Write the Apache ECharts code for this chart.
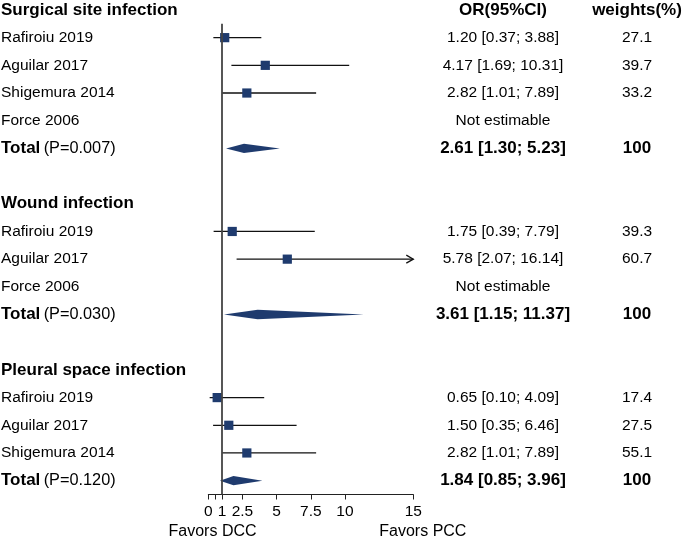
<!DOCTYPE html>
<html>
<head>
<meta charset="utf-8">
<script src="https://cdn.jsdelivr.net/npm/echarts@6/dist/echarts.min.js"></script>
<style>html,body{margin:0;padding:0;background:#fff}#chart{width:685px;height:539px}</style>
</head>
<body>
<div id="chart"></div>
<script>
// ---- Data ----
const groupNames = ['Surgical site infection', 'Wound infection', 'Pleural space infection'];

const ssiStudies = ['Rafiroiu 2019', 'Aguilar 2017', 'Shigemura 2014', 'Force 2006'];
const ssiOR = [1.20, 4.17, 2.82, null];
const ssiLow = [0.37, 1.69, 1.01, null];
const ssiHigh = [3.88, 10.31, 7.89, null];
const ssiWeight = [27.1, 39.7, 33.2, null];
const ssiTotal = [2.61, 1.30, 5.23];
const ssiP = '0.007';

const woundStudies = ['Rafiroiu 2019', 'Aguilar 2017', 'Force 2006'];
const woundOR = [1.75, 5.78, null];
const woundLow = [0.39, 2.07, null];
const woundHigh = [7.79, 16.14, null];
const woundWeight = [39.3, 60.7, null];
const woundTotal = [3.61, 1.15, 11.37];
const woundP = '0.030';

const pleuralStudies = ['Rafiroiu 2019', 'Aguilar 2017', 'Shigemura 2014'];
const pleuralOR = [0.65, 1.50, 2.82];
const pleuralLow = [0.10, 0.35, 1.01];
const pleuralHigh = [4.09, 6.46, 7.89];
const pleuralWeight = [17.4, 27.5, 55.1];
const pleuralTotal = [1.84, 0.85, 3.96];
const pleuralP = '0.120';

const xTicks = [0, 0.5, 1, 2.5, 5, 7.5, 10, 15];
const xTickLabels = [0, 1, 2.5, 5, 7.5, 10, 15];
const colHeaders = ['OR(95%CI)', 'weights(%)'];
const favorLabels = ['Favors DCC', 'Favors PCC'];

// ---- Build rows ----
const groupsData = [
  [ssiStudies, ssiOR, ssiLow, ssiHigh, ssiWeight, ssiTotal, ssiP],
  [woundStudies, woundOR, woundLow, woundHigh, woundWeight, woundTotal, woundP],
  [pleuralStudies, pleuralOR, pleuralLow, pleuralHigh, pleuralWeight, pleuralTotal, pleuralP]
];
const rows = [];
groupsData.forEach((g, gi) => {
  if (gi > 0) rows.push({ type: 'blank' });
  rows.push({ type: 'header', name: groupNames[gi], first: gi === 0 });
  g[0].forEach((s, i) => rows.push({ type: 'study', name: s, or: g[1][i], low: g[2][i], high: g[3][i], w: g[4][i] }));
  rows.push({ type: 'total', or: g[5][0], low: g[5][1], high: g[5][2], p: g[6] });
});

const XMAX = 15;
const FONT = '"Liberation Sans", Arial, Helvetica, sans-serif';
const NAVY = '#1f3b6e';
const OR_X = 503, W_X = 637;

function txt(text, x, y, align, size, bold) {
  return { type: 'text', style: { text: text, x: x, y: y, align: align, verticalAlign: 'middle',
    fontSize: size, fontWeight: bold ? 'bold' : 'normal', fontFamily: FONT, fill: '#000' } };
}

function renderItem(params, api) {
  const r = rows[params.dataIndex];
  const y = api.coord([0, params.dataIndex])[1];
  const ch = [];
  if (r.type === 'header') {
    ch.push(txt(r.name, 1, y, 'left', 17, true));
    if (r.first) {
      ch.push(txt(colHeaders[0], OR_X, y, 'center', 17, true));
      ch.push(txt(colHeaders[1], W_X, y, 'center', 17, true));
    }
  } else if (r.type === 'study') {
    ch.push(txt(r.name, 1, y, 'left', 15.5, false));
    if (r.or == null) {
      ch.push(txt('Not estimable', OR_X, y, 'center', 15.5, false));
    } else {
      const x1 = api.coord([r.low, 0])[0];
      const x2 = api.coord([Math.min(r.high, XMAX), 0])[0];
      ch.push({ type: 'line', shape: { x1: x1, y1: y, x2: x2, y2: y }, style: { stroke: '#111', lineWidth: 1.3 } });
      if (r.high > XMAX) {
        ch.push({ type: 'polyline', shape: { points: [[x2 - 7, y - 4], [x2, y], [x2 - 7, y + 4]] }, style: { stroke: '#111', lineWidth: 1.3, fill: null } });
      }
      const xc = api.coord([r.or, 0])[0];
      ch.push({ type: 'rect', shape: { x: xc - 4.6, y: y - 4.6, width: 9.2, height: 9.2 }, style: { fill: NAVY } });
      ch.push(txt(r.or.toFixed(2) + ' [' + r.low.toFixed(2) + '; ' + r.high.toFixed(2) + ']', OR_X, y, 'center', 15.5, false));
      ch.push(txt(r.w.toFixed(1), W_X, y, 'center', 15.5, false));
    }
  } else if (r.type === 'total') {
    ch.push({ type: 'text', style: { text: '{b|Total} {n|(P=' + r.p + ')}', x: 1, y: y, align: 'left', verticalAlign: 'middle',
      fontFamily: FONT, fill: '#000',
      rich: { b: { fontSize: 17, fontWeight: 'bold', fontFamily: FONT, fill: '#000' }, n: { fontSize: 16.3, fontFamily: FONT, fill: '#000' } } } });
    const xl = api.coord([r.low, 0])[0], xe = api.coord([r.or, 0])[0], xh = api.coord([r.high, 0])[0];
    ch.push({ type: 'polygon', shape: { points: [[xl, y], [xe, y - 4.7], [xh, y], [xe, y + 4.7]] }, style: { fill: NAVY } });
    ch.push(txt(r.or.toFixed(2) + ' [' + r.low.toFixed(2) + '; ' + r.high.toFixed(2) + ']', OR_X, y, 'center', 17, true));
    ch.push(txt('100', W_X, y, 'center', 17, true));
  }
  if (params.dataIndex === rows.length - 1) {
    const yb = api.coord([0, 18.85])[1];
    ch.push(txt(favorLabels[0], api.coord([0.31, 0])[0], yb, 'center', 16, false));
    ch.push(txt(favorLabels[1], api.coord([15.7, 0])[0], yb, 'center', 16, false));
  }
  return { type: 'group', children: ch };
}

const chart = echarts.init(document.getElementById('chart'), null, { renderer: 'canvas' });
chart.setOption({
  animation: false,
  backgroundColor: '#fff',
  grid: { left: 208.3, width: 205, top: 23.8, height: 470.7, containLabel: false },
  xAxis: {
    type: 'value', min: 0, max: XMAX, position: 'bottom',
    axisLine: { show: true, onZero: false, lineStyle: { color: '#222', width: 1 } },
    axisTick: { show: true, length: 5, lineStyle: { color: '#222', width: 1 }, customValues: xTicks },
    axisLabel: { show: true, margin: 9, fontSize: 15.5, fontFamily: FONT, color: '#000', customValues: xTickLabels,
      formatter: v => String(v) },
    splitLine: { show: false }
  },
  yAxis: { type: 'value', inverse: true, min: 0.5, max: 17.5, show: false, splitLine: { show: false } },
  series: [
    {
      type: 'line', data: [], z: 1, silent: true,
      markLine: { silent: true, symbol: 'none', label: { show: false },
        lineStyle: { color: '#444', width: 1.8, type: 'solid' }, data: [{ xAxis: 1 }] }
    },
    {
      type: 'custom', z: 3, clip: false, silent: true,
      renderItem: renderItem,
      encode: { x: 0, y: 1 },
      data: rows.map((r, i) => [0, i])
    }
  ]
});
</script>
</body>
</html>
